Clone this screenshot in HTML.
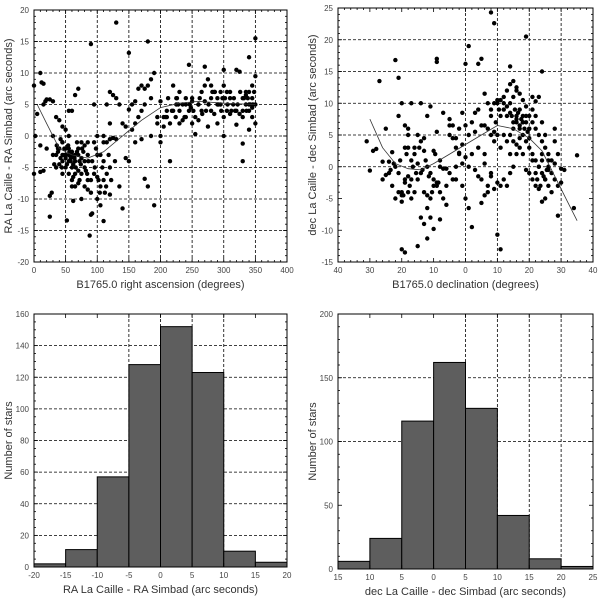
<!DOCTYPE html>
<html><head><meta charset="utf-8"><style>
html,body{margin:0;padding:0;background:#fff;}
svg{display:block;font-family:"Liberation Sans",sans-serif;}
</style></head><body>
<svg id="chart" width="600" height="600" viewBox="0 0 600 600" xmlns="http://www.w3.org/2000/svg">
</svg>
<script>
// ---- data ----
const raPointsX = [0,5,10,12,15,15,18,20,25,30,35,40,45,30,30,35,40,45,50,55,60,65,70,75,80,45,50,55,60,65,70,75,80,85,90,60,65,70,80,85,75,62,90,92,52,45,25,28,25,15,10,0,2,10,20,88,90,130,180,150,110,120,105,110,115,120,110,105,100,95,100,110,115,120,125,130,120,115,120,125,130,135,140,145,150,155,160,165,170,175,180,185,190,185,175,170,165,160,155,150,135,140,175,180,190,145,195,200,205,210,215,220,225,230,220,225,230,235,240,245,250,255,240,235,245,250,260,265,270,275,280,285,290,295,300,305,310,300,320,325,340,350,270,280,285,290,300,305,315,320,325,330,335,340,345,350,345,340,335,330,320,330,330,310,300,255,200,200,215,260,270,260,275,290,340,345,350,340,350,345,335,330,310,295,280,265,250,240,230,210,195,205,35,40,45,50,55,60,65,70,75,80,85,55,50,55,60,70,65,45,55,60,95,100,105,95,90,100,85,110,160,170,185,
 38,42,48,52,58,62,68,72,78,82,36,44,56,64,74,84,42,54,66,76,48,58,68,32,38,50,62,72,86,96,102,108,114,118,92,98,104,112,122,128,
 212,218,228,238,248,262,272,282,292,302,312,322,332,342,348,208,226,246,266,286,296,306,316,326,336,346,224,252,276,298,318,338];
const raPointsY = [8,3.5,10,8.5,8.3,5,5.5,5.8,5.8,5.5,3,2.5,1.5,0,-3,-3,-2,-1,-2,-3,-3,-4,-3,-3.5,-4,-4,-5,-4,-5,-6,-5.5,-6,-5,-7,-7,-7,-8,-7.5,-8,-8.5,-10,-10.3,-12.5,-12.3,-13.4,-1,-9.5,-9,-12.8,-5.5,-5.7,-6,0,-1.5,-2,-15.8,14.6,18,15,13.2,-13.5,-9.3,-8,-7,-6,-5,-4,-3,-3,-1,0,0,-1,-0.5,-0.3,-0.5,2,5,7,6.5,6,5,2,1.5,4.2,5,5.5,7.5,8,7.5,8,9,10,6,5,4,3,2,1,-4,-8,-11.5,-6.8,-8,-11,-3.5,3,5.5,3,3,2,4,5,7,8,6,2,2.5,3,4,2,3,6,5,11.3,6,5,7,8,9,8,7,6,7,8,7,6,10.5,10.5,10.2,12.5,15.5,11,4,3.5,5,3,4,5,4,3.5,4,5,5,6,9.5,8,7,6.5,3,1.8,-1.2,-4,3.5,0,0.3,-1,0,-4,5,5.5,2.5,1.5,2,1,3,2,4,5,4.5,7,6,7,5,6,4,5.5,5,4,4,2,1.5,-5,-4.5,-3,-3.5,-2,-2.5,-3,-2,-1,-1.5,-1,0,1,4,4,7.5,6.5,-6,-6,-8,5,-10,-11,-6,-9,-6.5,-3,-1,-1,-0.5,0,
 -2.5,-3.5,-2,-4.5,-3.5,-4.5,-2.5,-4,-2.5,-5.5,-1.5,-5,-2.5,-3.5,-4.5,-6,-0.5,-1.5,-5,-2,-3,-4,-1,-4.5,-2,-3,-6.5,-7,-4,-5,-7,-5,-8,-3,-4,-2,-9,-9,-7,-4,
 6,4,5,3,4.5,6,4,7,5,6,4,5,6,5,7,3,6,5,3.5,7,4,5,6,7,4,5,3,4,5,6,4,6];
const raTrendX = [5,20,40,60,85,110,140,170,200,230,260,300,350];
const raTrendY = [5,2,-2,-3,-3.5,-2.5,0,2.5,4.5,5.2,5.5,5.2,5];
const decPointsX = [-31,-30,-29,-28,-27,-26,-25,-24,-25,-26,-23,-22,-22,-21,-21,-20,-20,-20,-19,-19,-18,-18,-17,-17,-16,-16,-15,-15,-14,-14,-13,-12,-11,-11,-10,-9,-9,-8,-8,-7,-6,-6,-5,-5,-4,-3,-3,-2,-1,-1,0,1,1,2,3,4,5,6,7,8,9,10,6,8,-20,-19,-18,-17,-15,-14,-13,-12,-10,-9,-8,-7,-6,-5,-4,-3,-2,-1,0,1,2,3,4,5,6,7,8,9,3,4,5,6,7,8,9,10,11,12,13,14,15,16,17,18,19,20,21,22,23,24,25,8,9,5,4,0,1,14,19,24,15,16,17,18,19,20,21,22,23,24,25,26,27,28,29,30,31,28,27,26,25,24,23,22,21,28,28,29,30,35,34,29,22,21,20,19,18,17,16,15,14,13,12,11,10,11,12,13,14,15,16,17,18,19,20,21,22,14,15,16,17,6,7,8,9,10,10,11,12,13,14,23,24,25,26,26,24,20,18,16,14,-2,0,2,-1,-3,-4,-5,-24,-23,-22,-21,-20,-19,-18,-17,-16,-15,-14,-13,-12,-11,-10,-9,-8,-7,-10,-9,-12,-11,-19,-18,-13,-12,
 15,16,17,18,19,20,15.5,16.5,17.5,18.5,14.5,19.5,21,22,23,24,25,26,27,23.5,24.5,25.5,22.5,12,13,11,10.5,9.5,
 -21,-20.5,-19.5,-18.5,-17.5,-16.5,-15.5,-14.5,-13.5,-12.5,-11.5,-10.5,-9.5,-8.5,-22.5,-23.5];
const decPointsY = [4,-0.6,2.5,2.8,13.5,0.8,6,0.8,-1.3,-2,2.3,0,16.8,14,8,10,-4.5,-5.5,6.5,-2.5,6,3,10,-5,2,-4,0.5,-2,10,-1,-4,-4.5,9.5,-8,-9.8,16.5,17,-8.3,1,8.5,-0.3,-3,7.5,5,4.5,3,-2,2,0.5,-3,-5,5,-6.5,-9.5,5.5,3,-5.7,-4.5,-4,8,5.5,-10.7,0.5,-1,-13,-13.5,-4,-2,-12.5,-8,-9,-11.3,-2,-3,-4,-5,-6,-1,-2,0,2.2,3.5,1.5,0,2,-0.5,-1.5,-2,2,-3,-1.5,-3.5,8.5,9,6.5,6.5,6,5,4,5,3,9,8,10,11,12,9,8,7,6,9,8,11,7,5,24.3,22.6,17,16.2,16.2,19,15.8,20.5,15,6,7,6,5,4,3,2,1,0,-1,-2,-3,-4,-2,-3,-2.5,-0.5,0.5,1,2,3,4,5,6,7,6,4,2,-0.3,1.8,-6.5,-7.7,-3,-2,-1,-0.5,2,3,2,0,-1,-3,-2,-3,10,10.5,11,12,13,13.5,12.5,11.5,10.5,9.5,8,11,10.3,5,4,3.5,4.5,11.5,10,9,10,10.5,-2.5,-13,5,4,2,-3.5,-5.5,-5,-0.5,1,2,4.5,7,8,8.5,6,6.5,7,8.5,4.5,6.5,6.5,-1,-3,-5,-4,-4,-2,-1.5,1,3,5,4,2.5,0,-1,-3,-2.5,0,-0.3,2.5,5.5,-6.5,-5,3,5,4.5,8,
 7,7.5,6.5,7,8,6,9,8.5,7.5,6,8,5.5,1,-1,0,1,-2,0,-1,-3,-1.5,-0.5,-2,10,9.5,8,9,7,
 -1,1,-4.5,2,-3,0,-1,3,-0.5,1,-1.5,-4,2,-2.5,0.5,-0.5];
const decTrendX = [-30,-26,-22,-18,-14,-10,-5,0,5,10,15,20,24,28,32,35];
const decTrendY = [7.5,3,0.5,-0.3,-0.5,0.5,2,3.5,5,6.5,6,4.5,2.5,-1.5,-5.5,-8.5];
const raHistEdges = [-20,-15,-10,-5,0,5,10,15,20];
const raHistCounts = [2,11,57,128,152,123,10,3];
const decHistEdges = [-15,-10,-5,0,5,10,15,20,25];
const decHistCounts = [6,24,116,162,126,42,8,2];

const svg = document.getElementById('chart');
const NS = 'http://www.w3.org/2000/svg';
function mk(tag, attrs, parent){ const e=document.createElementNS(NS,tag); for(const k in attrs) e.setAttribute(k,attrs[k]); (parent||svg).appendChild(e); return e; }
function scale(d0,d1,r0,r1){ return v => r0 + (v-d0)/(d1-d0)*(r1-r0); }

function panel(cfg){
  const g = mk('g',{});
  
  
  const sx = scale(cfg.xd[0],cfg.xd[1],cfg.px[0],cfg.px[1]);
  const sy = scale(cfg.yd[0],cfg.yd[1],cfg.py[0],cfg.py[1]);
  cfg.xgrid.forEach(v=>{ const l=mk('line',{x1:sx(v),x2:sx(v),y1:cfg.py[1],y2:cfg.py[0],stroke:'#000','stroke-width':0.8,'stroke-dasharray':'3,2'},g);
      });
  cfg.ygrid.forEach(v=>{ const l=mk('line',{x1:cfg.px[0],x2:cfg.px[1],y1:sy(v),y2:sy(v),stroke:'#000','stroke-width':0.8,'stroke-dasharray':'3,2'},g);
      });
  if(cfg.edges){
    cfg.counts.forEach((c,i)=>{ const x0=sx(cfg.edges[i]), x1=sx(cfg.edges[i+1]), y=sy(c);
      const r=mk('rect',{x:x0,y:y,width:x1-x0,height:sy(0)-y,fill:'#5e5e5e',stroke:'#000','stroke-width':1},g);
        });
  }
  if(cfg.ptsX){
    cfg.ptsX.forEach((x,i)=>{ const c=mk('circle',{cx:sx(x),cy:sy(cfg.ptsY[i]),r:2.2,fill:'#000'},g);
        });
    const d = cfg.trX.map((x,i)=>(i?'L':'M')+sx(x).toFixed(1)+','+sy(cfg.trY[i]).toFixed(1)).join(' ');
    const p=mk('path',{d:d,fill:'none',stroke:'#333','stroke-width':0.8},g);
     
  }
  const f=mk('rect',{x:cfg.px[0],y:cfg.py[1],width:cfg.px[1]-cfg.px[0],height:cfg.py[0]-cfg.py[1],fill:'none',stroke:'#000','stroke-width':1},g);
   
  const xstep=(cfg.xt[1]-cfg.xt[0]), ystep=(cfg.yt[1]-cfg.yt[0]);
  for(let v=cfg.xd[0]; v<=cfg.xd[1]+1e-9; v+=xstep/cfg.xminor){
    const major = Math.abs(((v-cfg.xd[0])/xstep)-Math.round((v-cfg.xd[0])/xstep))<1e-6;
    const L=major?4:2;
    mk('line',{x1:sx(v),x2:sx(v),y1:cfg.py[0],y2:cfg.py[0]-L,stroke:'#000','stroke-width':0.8},g);
    mk('line',{x1:sx(v),x2:sx(v),y1:cfg.py[1],y2:cfg.py[1]+L,stroke:'#000','stroke-width':0.8},g);
  }
  for(let v=cfg.yd[0]; v<=cfg.yd[1]+1e-9; v+=ystep/cfg.yminor){
    const major = Math.abs(((v-cfg.yd[0])/ystep)-Math.round((v-cfg.yd[0])/ystep))<1e-6;
    const L=major?4:2;
    mk('line',{x1:cfg.px[0],x2:cfg.px[0]+L,y1:sy(v),y2:sy(v),stroke:'#000','stroke-width':0.8},g);
    mk('line',{x1:cfg.px[1],x2:cfg.px[1]-L,y1:sy(v),y2:sy(v),stroke:'#000','stroke-width':0.8},g);
  }
  cfg.xt.forEach((v,i)=>{ const t=mk('text',{x:sx(v),y:cfg.py[0]+11,'font-size':8,'text-anchor':'middle',fill:'#444'},g);
    t.textContent=cfg.xl[i];   });
  cfg.yt.forEach((v,i)=>{ const t=mk('text',{x:cfg.px[0]-5,y:sy(v)+3,'font-size':8,'text-anchor':'end',fill:'#444'},g);
    t.textContent=cfg.yl[i];   });
  const xt=mk('text',{x:(cfg.px[0]+cfg.px[1])/2,y:cfg.py[0]+26,'font-size':11,'text-anchor':'middle',fill:'#333'},g);
  xt.textContent=cfg.xtitle;  
  const cy=(cfg.py[0]+cfg.py[1])/2, cx=cfg.px[0]-22;
  const yt=mk('text',{x:cx,y:cy,'font-size':11,'text-anchor':'middle',fill:'#333',transform:`rotate(-90 ${cx} ${cy})`},g);
  yt.textContent=cfg.ytitle;  
}

panel({name:'ra-scatter-panel',px:[34,287],py:[262,10],xd:[0,400],yd:[-20,20],
  xt:[0,50,100,150,200,250,300,350,400],xl:['0','50','100','150','200','250','300','350','400'],
  yt:[-20,-15,-10,-5,0,5,10,15,20],yl:['-20','-15','-10','-5','0','5','10','15','20'],
  xminor:5,yminor:5,xgrid:[50,100,150,200,250,300,350],ygrid:[-15,-10,-5,0,5,10,15],
  ptsX:raPointsX,ptsY:raPointsY,trX:raTrendX,trY:raTrendY,
  xtitle:'B1765.0 right ascension (degrees)',ytitle:'RA La Caille - RA Simbad (arc seconds)'});
panel({name:'dec-scatter-panel',px:[338,593],py:[262,8],xd:[-40,40],yd:[-15,25],
  xt:[-40,-30,-20,-10,0,10,20,30,40],xl:['40','30','20','10','0','10','20','30','40'],
  yt:[-15,-10,-5,0,5,10,15,20,25],yl:['-15','-10','-5','0','5','10','15','20','25'],
  xminor:5,yminor:5,xgrid:[0,10,20,30],ygrid:[0,5,10,15,20],
  ptsX:decPointsX,ptsY:decPointsY,trX:decTrendX,trY:decTrendY,
  xtitle:'B1765.0 declination (degrees)',ytitle:'dec La Caille - dec Simbad (arc seconds)'});
panel({name:'ra-histogram-panel',px:[34,287],py:[567,314],xd:[-20,20],yd:[0,160],
  xt:[-20,-15,-10,-5,0,5,10,15,20],xl:['-20','-15','-10','-5','0','5','10','15','20'],
  yt:[0,20,40,60,80,100,120,140,160],yl:['0','20','40','60','80','100','120','140','160'],
  xminor:1,yminor:4,xgrid:[-5,0,5,10],ygrid:[20,40,60,80,100,120,140],
  edges:raHistEdges,counts:raHistCounts,
  xtitle:'RA La Caille - RA Simbad (arc seconds)',ytitle:'Number of stars'});
panel({name:'dec-histogram-panel',px:[338,593],py:[569,314],xd:[-15,25],yd:[0,200],
  xt:[-15,-10,-5,0,5,10,15,20,25],xl:['15','10','5','0','5','10','15','20','25'],
  yt:[0,50,100,150,200],yl:['0','50','100','150','200'],
  xminor:1,yminor:5,xgrid:[5,10,15,20],ygrid:[100,150],
  edges:decHistEdges,counts:decHistCounts,
  xtitle:'dec La Caille - dec Simbad (arc seconds)',ytitle:'Number of stars'});
</script>
</body></html>
